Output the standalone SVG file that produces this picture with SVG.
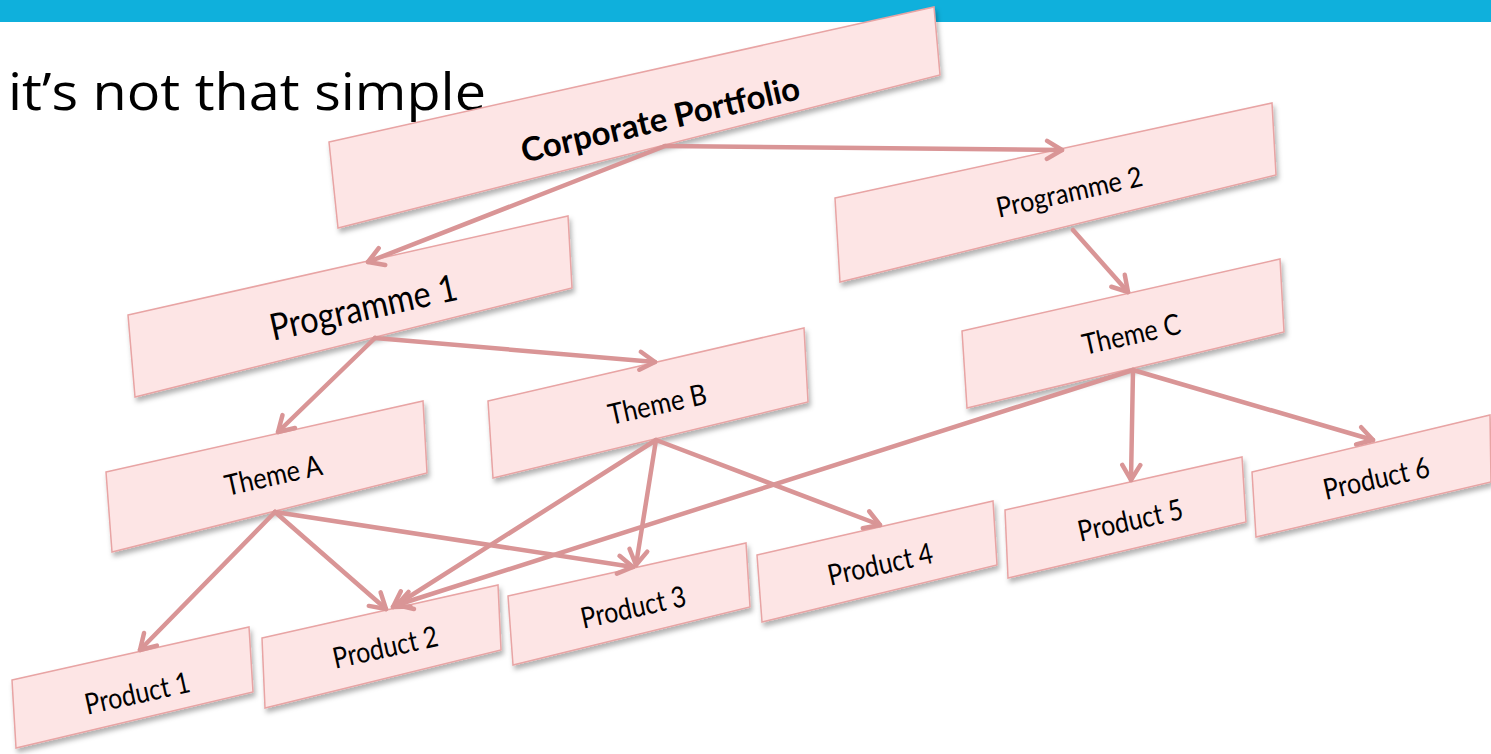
<svg xmlns="http://www.w3.org/2000/svg" width="1491" height="754" viewBox="0 0 1491 754">
<defs>
<filter id="sh" x="-10%" y="-20%" width="120%" height="160%">
<feDropShadow dx="2" dy="4" stdDeviation="2.5" flood-color="#000" flood-opacity="0.3"/>
</filter>
<marker id="ah" viewBox="0 0 24 24" refX="20" refY="12" markerWidth="24" markerHeight="24" markerUnits="userSpaceOnUse" orient="auto">
<path d="M5,3 L20,12 L5,21" fill="none" stroke="#d99596" stroke-width="4.5" stroke-linecap="round" stroke-linejoin="round"/>
</marker>
</defs>
<style>
.box{fill:#fde5e5;stroke:#e8a4a4;stroke-width:1.5;filter:url(#sh)}
.lbl{font-family:Lato,"Open Sans","Liberation Sans",sans-serif;fill:#000;text-anchor:middle;dominant-baseline:central}
.con{fill:none;stroke:#d99596;stroke-width:4.5;stroke-linecap:round;marker-end:url(#ah)}
.title{font-family:"Open Sans","Liberation Sans",sans-serif;font-size:52px;fill:#000}
</style>
<rect x="0" y="0" width="1491" height="22" fill="#0fb0dc"/>
<text class="title" x="8" y="110" textLength="478" lengthAdjust="spacingAndGlyphs">it’s not that simple</text>

<g id="n-corporate"><polygon class="box" points="329,142 934,7 940,75 338,228"/><text class="lbl" x="660" y="118" font-size="33" font-weight="bold" textLength="285" lengthAdjust="spacingAndGlyphs" transform="rotate(-13 660 118)">Corporate Portfolio</text></g>
<g id="n-programme2"><polygon class="box" points="835,198 1272,103 1276,175 840,282"/><text class="lbl" x="1069" y="191" font-size="28" textLength="149" lengthAdjust="spacingAndGlyphs" transform="rotate(-12.5 1069 191)">Programme 2</text></g>
<g id="n-programme1"><polygon class="box" points="128,315 568,216 572,288 135,397"/><text class="lbl" x="363" y="306" font-size="37" textLength="191" lengthAdjust="spacingAndGlyphs" transform="rotate(-12.5 363 306)">Programme 1</text></g>
<g id="n-themec"><polygon class="box" points="962,331 1280,259 1284,332 967,408"/><text class="lbl" x="1131" y="333" font-size="29" textLength="100" lengthAdjust="spacingAndGlyphs" transform="rotate(-12.5 1131 333)">Theme C</text></g>
<g id="n-themeb"><polygon class="box" points="488,401 804,328 808,402 493,478"/><text class="lbl" x="657" y="403" font-size="29" textLength="100" lengthAdjust="spacingAndGlyphs" transform="rotate(-12.5 657 403)">Theme B</text></g>
<g id="n-themea"><polygon class="box" points="106,472 423,401 427,473 112,552"/><text class="lbl" x="273" y="474" font-size="29" textLength="99" lengthAdjust="spacingAndGlyphs" transform="rotate(-12.5 273 474)">Theme A</text></g>
<g id="n-product1"><polygon class="box" points="12,680 249,627 253,692 16,748"/><text class="lbl" x="137" y="692" font-size="29" textLength="107" lengthAdjust="spacingAndGlyphs" transform="rotate(-12.5 137 692)">Product 1</text></g>
<g id="n-product2"><polygon class="box" points="262,638 498,585 501,650 265,708"/><text class="lbl" x="385" y="646" font-size="29" textLength="107" lengthAdjust="spacingAndGlyphs" transform="rotate(-12.5 385 646)">Product 2</text></g>
<g id="n-product3"><polygon class="box" points="508,596 746,543 750,607 513,665"/><text class="lbl" x="633" y="606" font-size="29" textLength="107" lengthAdjust="spacingAndGlyphs" transform="rotate(-12.5 633 606)">Product 3</text></g>
<g id="n-product4"><polygon class="box" points="757,555 993,501 997,565 762,622"/><text class="lbl" x="880" y="563" font-size="29" textLength="107" lengthAdjust="spacingAndGlyphs" transform="rotate(-12.5 880 563)">Product 4</text></g>
<g id="n-product5"><polygon class="box" points="1005,510 1242,457 1246,522 1008,578"/><text class="lbl" x="1130" y="519" font-size="29" textLength="107" lengthAdjust="spacingAndGlyphs" transform="rotate(-12.5 1130 519)">Product 5</text></g>
<g id="n-product6"><polygon class="box" points="1252,472 1490,415 1491,482 1256,537"/><text class="lbl" x="1376" y="477" font-size="29" textLength="108" lengthAdjust="spacingAndGlyphs" transform="rotate(-12.5 1376 477)">Product 6</text></g>

<g id="connectors">
<line class="con" x1="665" y1="146" x2="368" y2="262"/>
<line class="con" x1="665" y1="146" x2="1062" y2="150"/>
<line class="con" x1="1073" y1="230" x2="1128" y2="292"/>
<line class="con" x1="375" y1="338" x2="278" y2="432"/>
<line class="con" x1="375" y1="338" x2="655" y2="362"/>
<line class="con" x1="275" y1="512" x2="140" y2="650"/>
<line class="con" x1="275" y1="512" x2="386" y2="609"/>
<line class="con" x1="275" y1="512" x2="633" y2="567"/>
<line class="con" x1="656" y1="440" x2="393" y2="607"/>
<line class="con" x1="656" y1="440" x2="636" y2="565"/>
<line class="con" x1="656" y1="440" x2="880" y2="525"/>
<line class="con" x1="1133" y1="370" x2="397" y2="605"/>
<line class="con" x1="1133" y1="370" x2="1131" y2="480"/>
<line class="con" x1="1133" y1="370" x2="1373" y2="440"/>
</g>
</svg>
